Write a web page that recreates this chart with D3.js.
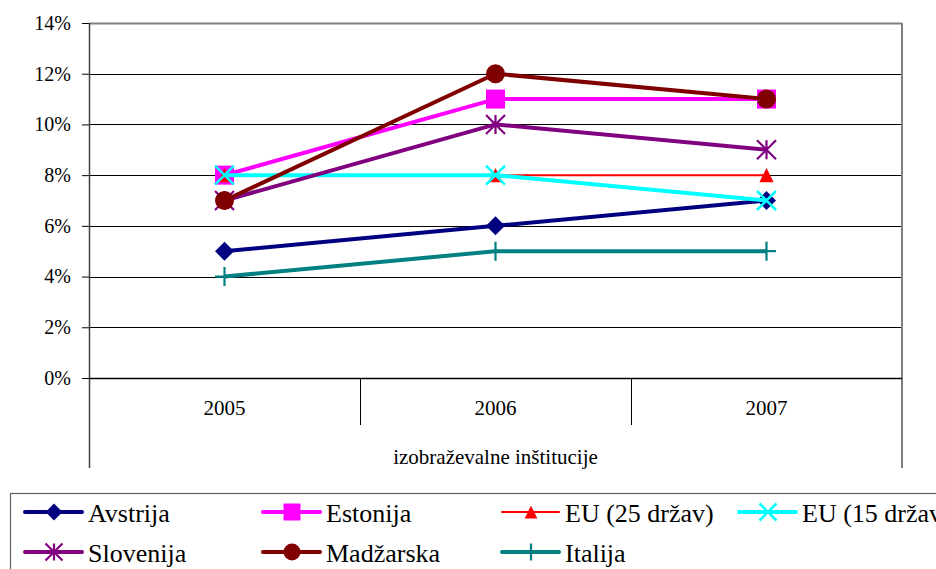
<!DOCTYPE html>
<html>
<head>
<meta charset="utf-8">
<script src="https://cdn.jsdelivr.net/npm/d3@7"></script>
</head>
<body style="margin:0">
<svg id="chart" width="936" height="569" font-family="Liberation Serif"></svg>
<script>
// data (values in %)
var years = ["2005", "2006", "2007"];
var seriesNames = ["Avstrija", "Estonija", "EU (25 držav)", "EU (15 držav)", "Slovenija", "Madžarska", "Italija"];
var avstrija = [5, 6, 7];
var estonija = [8, 11, 11];
var eu25 = [8, 8, 8];
var eu15 = [8, 8, 7];
var slovenija = [7, 10, 9];
var madzarska = [7, 12, 11];
var italija = [4, 5, 5];
var yTicks = [0, 2, 4, 6, 8, 10, 12, 14];
var axisTitle = "izobraževalne inštitucije";

var colors = ["#000080", "#ff00ff", "#ff0000", "#00ffff", "#800080", "#800000", "#008080"];
var markers = ["diamond", "square", "triangle", "x", "star", "circle", "plus"];
var widths = [4, 4, 2, 4, 4, 4, 4];

var series = [avstrija, estonija, eu25, eu15, slovenija, madzarska, italija].map(function (v, i) {
  return { name: seriesNames[i], values: v, color: colors[i], marker: markers[i], width: widths[i] };
});

var width = 936, height = 569;
var margin = { left: 89, top: 23, right: 34, bottom: 191 };
var innerWidth = width - margin.left - margin.right;
var innerHeight = height - margin.top - margin.bottom;

var svg = d3.select("#chart");
var g = svg.append("g").attr("transform", "translate(" + margin.left + "," + margin.top + ")");

var x = d3.scaleBand().domain(years).range([0, innerWidth]);
var y = d3.scaleLinear().domain([0, 14]).range([innerHeight, 0]);

// gridlines
g.selectAll(".grid").data(yTicks.slice(1, -1)).enter().append("line")
  .attr("x1", 0).attr("x2", innerWidth)
  .attr("y1", function (d) { return Math.round(y(d)) + 0.5; })
  .attr("y2", function (d) { return Math.round(y(d)) + 0.5; })
  .attr("stroke", "#000").attr("stroke-width", 1);

// plot border (top / right gray)
g.append("line").attr("x1", 0).attr("x2", innerWidth).attr("y1", 0.5).attr("y2", 0.5)
  .attr("stroke", "#808080").attr("stroke-width", 2);
g.append("line").attr("x1", innerWidth).attr("x2", innerWidth).attr("y1", 0).attr("y2", innerHeight + 90)
  .attr("stroke", "#808080").attr("stroke-width", 2);

// y axis
var yAxis = d3.axisLeft(y).tickValues(yTicks).tickSize(7).tickPadding(11)
  .tickFormat(function (d) { return d + "%"; });
var yAxisG = g.append("g").call(yAxis).attr("font-family", "Liberation Serif");
yAxisG.select(".domain").remove();
yAxisG.selectAll("line").attr("stroke", "#000");
yAxisG.selectAll("text").attr("font-size", "20px").attr("fill", "#000")
  .attr("font-family", "Liberation Serif").style("font-family", "Liberation Serif");
g.append("line").attr("x1", 0.5).attr("x2", 0.5).attr("y1", 0).attr("y2", innerHeight + 90)
  .attr("stroke", "#404040").attr("stroke-width", 1.5);

// x axis line and category separators
g.append("line").attr("x1", 0).attr("x2", innerWidth)
  .attr("y1", innerHeight + 0.5).attr("y2", innerHeight + 0.5)
  .attr("stroke", "#000").attr("stroke-width", 1.5);
g.selectAll(".sep").data(years.slice(1)).enter().append("line")
  .attr("x1", function (d) { return Math.round(x(d)) + 0.5; })
  .attr("x2", function (d) { return Math.round(x(d)) + 0.5; })
  .attr("y1", innerHeight).attr("y2", innerHeight + 47)
  .attr("stroke", "#000").attr("stroke-width", 1);

var xAxis = d3.axisBottom(x).tickSize(0).tickPadding(22);
var xAxisG = g.append("g").attr("transform", "translate(0," + innerHeight + ")").call(xAxis)
  .attr("font-family", "Liberation Serif");
xAxisG.select(".domain").remove();
xAxisG.selectAll("text").attr("font-size", "21px").attr("fill", "#000")
  .attr("font-family", "Liberation Serif").style("font-family", "Liberation Serif");

g.append("text").attr("x", innerWidth / 2).attr("y", innerHeight + 86)
  .attr("text-anchor", "middle").attr("font-size", "21px")
  .attr("font-family", "Liberation Serif").style("font-family", "Liberation Serif").text(axisTitle);

// marker drawing
function drawMarker(sel, type, color, s) {
  var h = s / 2;
  if (type === "diamond") {
    sel.append("path").attr("d", "M0," + (-h) + "L" + h + ",0L0," + h + "L" + (-h) + ",0Z").attr("fill", color);
  } else if (type === "square") {
    sel.append("rect").attr("x", -h).attr("y", -h).attr("width", s).attr("height", s).attr("fill", color);
  } else if (type === "triangle") {
    var t = h * 0.75;
    sel.append("path").attr("d", "M0," + (-t) + "L" + t + "," + t + "L" + (-t) + "," + t + "Z").attr("fill", color);
  } else if (type === "circle") {
    sel.append("circle").attr("r", h).attr("fill", color);
  } else if (type === "x") {
    sel.append("path").attr("d", "M" + (-h) + "," + (-h) + "L" + h + "," + h + "M" + h + "," + (-h) + "L" + (-h) + "," + h)
      .attr("stroke", color).attr("stroke-width", 2.5).attr("fill", "none");
  } else if (type === "star") {
    sel.append("path").attr("d", "M" + (-h) + "," + (-h) + "L" + h + "," + h + "M" + h + "," + (-h) + "L" + (-h) + "," + h + "M0," + (-h) + "L0," + h)
      .attr("stroke", color).attr("stroke-width", 2.2).attr("fill", "none");
  } else if (type === "plus") {
    sel.append("path").attr("d", "M" + (-h) + ",0L" + h + ",0M0," + (-h) + "L0," + h)
      .attr("stroke", color).attr("stroke-width", 2.2).attr("fill", "none");
  }
}

var line = d3.line()
  .x(function (d, i) { return x(years[i]) + x.bandwidth() / 2; })
  .y(function (d) { return y(d); });

series.forEach(function (s) {
  var sg = g.append("g");
  sg.append("path").datum(s.values).attr("d", line)
    .attr("fill", "none").attr("stroke", s.color).attr("stroke-width", s.width)
    .attr("stroke-linejoin", "round");
  sg.selectAll(".m").data(s.values).enter().append("g")
    .attr("transform", function (d, i) { return "translate(" + (x(years[i]) + x.bandwidth() / 2) + "," + y(d) + ")"; })
    .each(function () { drawMarker(d3.select(this), s.marker, s.color, 19); });
});

// legend
var legend = svg.append("g");
legend.append("rect").attr("x", 10.5).attr("y", 493.5).attr("width", 960).attr("height", 100)
  .attr("fill", "#fff").attr("stroke", "#606060").attr("stroke-width", 1.2);

var colX = [25, 263, 502, 739];
var rowY = [512, 552];
series.forEach(function (s, i) {
  var lx = colX[i % 4], ly = rowY[Math.floor(i / 4)];
  var item = legend.append("g").attr("transform", "translate(" + lx + "," + ly + ")");
  item.append("line").attr("x1", 0).attr("x2", 57).attr("y1", 0).attr("y2", 0)
    .attr("stroke", s.color).attr("stroke-width", s.width).attr("stroke-linecap", "round");
  drawMarker(item.append("g").attr("transform", "translate(29,0)"), s.marker, s.color, 17);
  item.append("text").attr("x", 63).attr("y", 10).attr("font-size", "26px").attr("fill", "#000")
    .attr("font-family", "Liberation Serif").style("font-family", "Liberation Serif").text(s.name);
});
</script>
</body>
</html>
